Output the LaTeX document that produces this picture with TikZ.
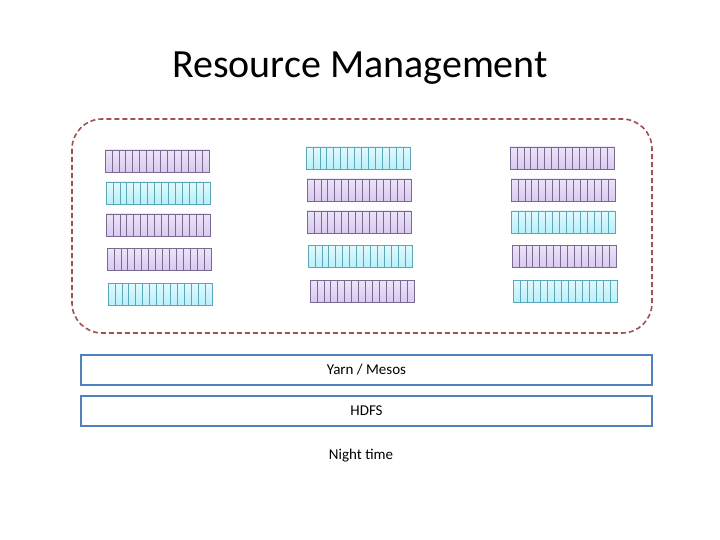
\documentclass[tikz,border=0pt]{standalone}
\usepackage{fontspec}
\setmainfont{Carlito}
\usetikzlibrary{calc}
\definecolor{pur}{HTML}{D9C9F0}
\definecolor{purd}{HTML}{7A6A92}
\definecolor{cya}{HTML}{B8F0FA}
\definecolor{cyad}{HTML}{5AA7B8}
\definecolor{dashred}{HTML}{A0504F}
\definecolor{bl}{HTML}{4F81BD}
\newcommand{\mybar}[3]{%
  \ifnum#3=1
    \shade[top color=pur!50!white,bottom color=pur] (#1,#2) rectangle ++(104,22);
    \draw[purd,line width=0.8pt] (#1,#2) rectangle ++(104,22);
    \foreach \i in {1,...,14}{\draw[purd,line width=0.6pt] ($(#1,#2)+(6.93*\i,0)$) -- ++(0,22);}
  \else
    \shade[top color=cya!40!white,bottom color=cya] (#1,#2) rectangle ++(104,22);
    \draw[cyad,line width=0.8pt] (#1,#2) rectangle ++(104,22);
    \foreach \i in {1,...,14}{\draw[cyad,line width=0.6pt] ($(#1,#2)+(6.93*\i,0)$) -- ++(0,22);}
  \fi}
\begin{document}
\begin{tikzpicture}[x=1pt,y=-1pt,
 box/.style={draw=bl,line width=1.6pt,minimum width=571pt,minimum height=30pt,inner sep=0pt,font=\fontsize{15}{18}\selectfont},
 lbl/.style={font=\fontsize{15}{18}\selectfont}]
\useasboundingbox (0,0) rectangle (720,540);
\node[font=\fontsize{40}{48}\selectfont] (title) at (360,68) {Resource Management};
\draw[dashred,line width=1.6pt,dash pattern=on 5pt off 3pt,rounded corners=30pt] (72,119) rectangle (652,333);
\mybar{105}{150}{1}
\mybar{106}{182}{2}
\mybar{106}{214}{1}
\mybar{107}{248}{1}
\mybar{108}{283}{2}
\mybar{306}{147}{2}
\mybar{307}{179}{1}
\mybar{307}{211}{1}
\mybar{308}{245}{2}
\mybar{310}{280}{1}
\mybar{510}{147}{1}
\mybar{511}{179}{1}
\mybar{511}{211}{2}
\mybar{512}{245}{1}
\mybar{513}{280}{2}
\node[box] (yarn) at (366.5,370) {Yarn / Mesos};
\node[box] (hdfs) at (366.5,411) {HDFS};
\node[lbl] (night) at (361,456) {Night time};
\end{tikzpicture}
\end{document}
